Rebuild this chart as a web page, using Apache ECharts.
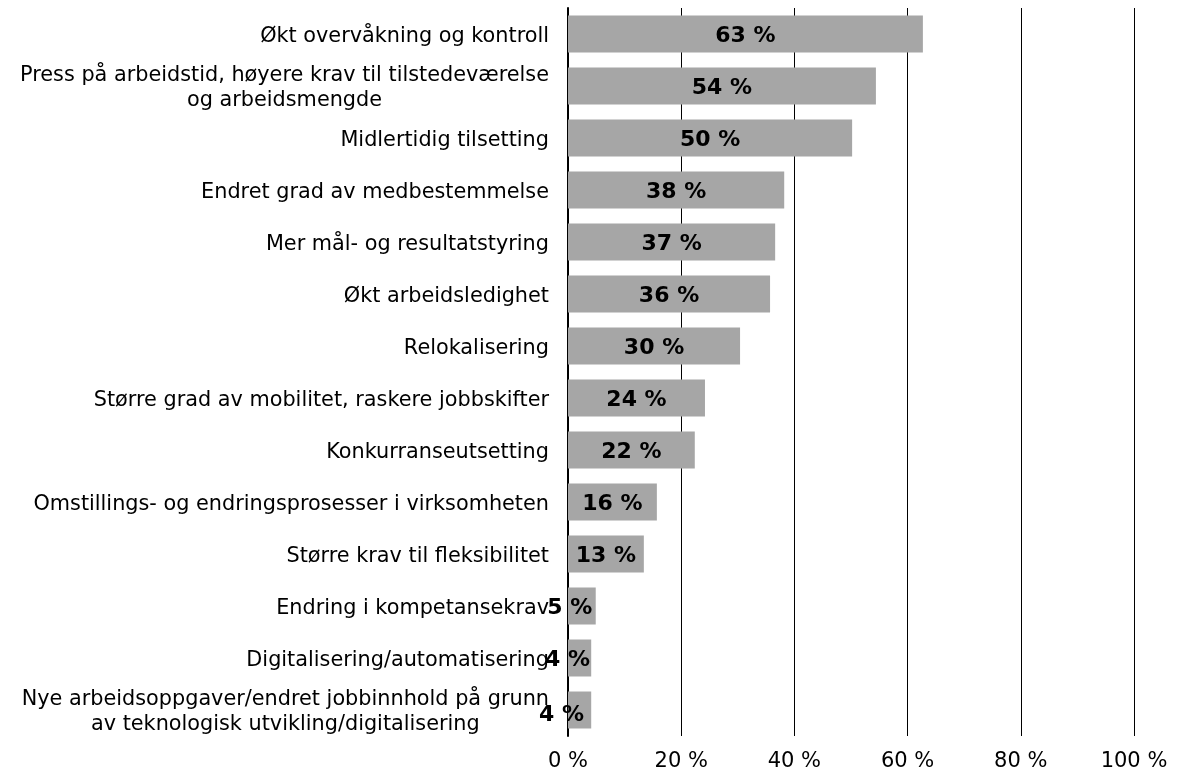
<!DOCTYPE html>
<html>
<head>
<meta charset="utf-8">
<script src="https://cdn.jsdelivr.net/npm/echarts@6/dist/echarts.min.js"></script>
<style>
  html, body { margin: 0; padding: 0; background: #fff; }
  #chart { width: 1200px; height: 777px; }
</style>
</head>
<body>
<div id="chart"></div>
<script>
// kategorier (øverst først)
var categories = [
    'Økt overvåkning og kontroll',
    'Press på arbeidstid, høyere krav til tilstedeværelse\nog arbeidsmengde',
    'Midlertidig tilsetting',
    'Endret grad av medbestemmelse',
    'Mer mål- og resultatstyring',
    'Økt arbeidsledighet',
    'Relokalisering',
    'Større grad av mobilitet, raskere jobbskifter',
    'Konkurranseutsetting',
    'Omstillings- og endringsprosesser i virksomheten',
    'Større krav til fleksibilitet',
    'Endring i kompetansekrav',
    'Digitalisering/automatisering',
    'Nye arbeidsoppgaver/endret jobbinnhold på grunn\nav teknologisk utvikling/digitalisering'
];
var values = [62.7, 54.4, 50.2, 38.2, 36.6, 35.7, 30.4, 24.2, 22.4, 15.7, 13.4, 4.9, 4.1, 4.1];
var xTicks = [0, 20, 40, 60, 80, 100];

var font = 'DejaVu Sans, Verdana, sans-serif';
var myChart = echarts.init(document.getElementById('chart'));

myChart.setOption({
    animation: false,
    grid: {
        left: 568,
        width: 566,
        top: 8,
        height: 728
    },
    xAxis: {
        type: 'value',
        min: xTicks[0],
        max: xTicks[xTicks.length - 1],
        interval: 20,
        axisLine: { show: false },
        axisTick: { show: false },
        splitLine: {
            lineStyle: { color: '#000', width: 1 }
        },
        axisLabel: {
            formatter: '{value} %',
            color: '#000',
            fontSize: 21,
            fontFamily: font,
            margin: 15
        }
    },
    yAxis: {
        type: 'category',
        inverse: true,
        data: categories,
        axisTick: { show: false },
        axisLine: {
            lineStyle: { color: '#000', width: 2 }
        },
        axisLabel: {
            margin: 19,
            align: 'right',
            padding: [5, 0, 0, 0],
            color: '#000',
            fontSize: 20.8,
            fontFamily: font,
            lineHeight: 25,
            // linjene i flerlinjede etiketter sentreres mot hverandre
            formatter: function (v) {
                return v.split('\n').map(function (s) { return '{c|' + s + '}'; }).join('\n');
            },
            rich: {
                c: {
                    align: 'center',
                    color: '#000',
                    fontSize: 20.8,
                    fontFamily: font,
                    lineHeight: 25
                }
            }
        }
    },
    series: [{
        type: 'bar',
        barWidth: 37,
        itemStyle: { color: '#a6a6a6' },
        label: {
            show: true,
            position: 'inside',
            offset: [0, 2],
            color: '#000',
            fontWeight: 'bold',
            fontSize: 22,
            fontFamily: font,
            formatter: function (p) { return Math.round(p.value) + ' %'; }
        },
        data: values.map(function (v, i) {
            // de minste søylene: etiketten ligger litt til venstre, som i originalen
            if (i >= 11) {
                return { value: v, label: { offset: [i === 13 ? -18 : -12, i === 13 ? 5 : 2] } };
            }
            return v;
        })
    }]
});
window.onresize = myChart.resize;
</script>
</body>
</html>
